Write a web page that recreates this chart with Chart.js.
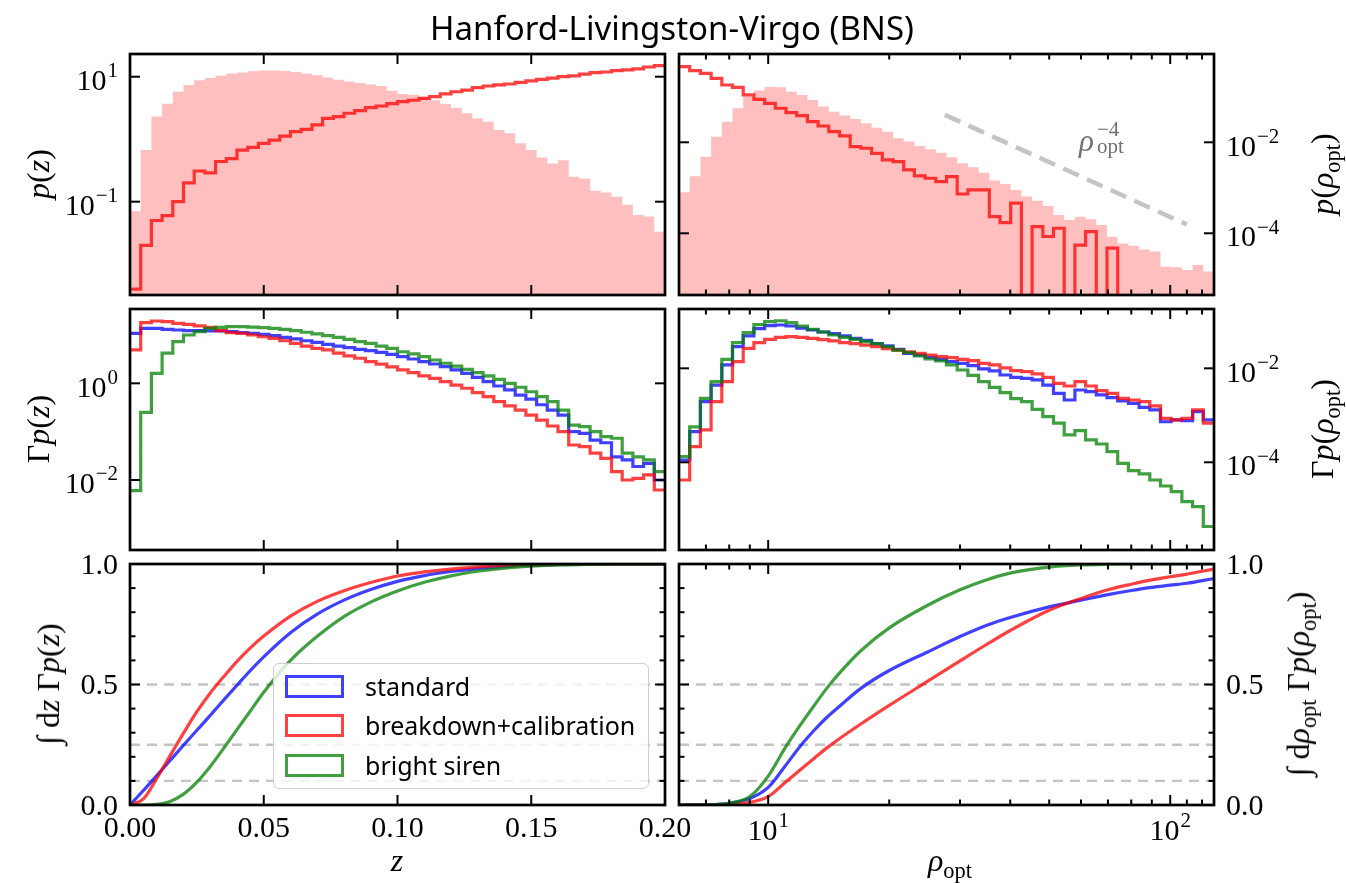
<!DOCTYPE html>
<html>
<head>
<meta charset="utf-8">
<script src="https://cdn.jsdelivr.net/npm/chart.js@4.4.0/dist/chart.umd.min.js"></script>
<style>
  body { margin: 0; background: #fff; }
  #fig { position: relative; width: 1346px; height: 883px; overflow: hidden; }
  canvas.panel { position: absolute; left: 0; top: 0; }
  .lbl { position: absolute; font-family: "Liberation Serif", serif; font-size: 32px; line-height: 1; white-space: nowrap; transform: translate(-50%, -50%); }
  .rot { transform: translate(-50%, -50%) rotate(-90deg); }
  .lbl i { font-style: italic; }
  .sb { font-size: 70%; position: relative; top: 0.3em; }
  #title { position: absolute; left: 672px; top: 27px; transform: translate(-50%, -50%); font-family: "Noto Sans", sans-serif; font-size: 33px; white-space: nowrap; }
  #legend { position: absolute; left: 273px; top: 663px; width: 374px; height: 124px; border: 1.5px solid #cfcfcf; border-radius: 6px; background: rgba(255,255,255,0.8); }
  .entry { position: absolute; left: 0; height: 30px; display: flex; align-items: center; font-family: "Noto Sans", sans-serif; font-size: 25px; white-space: nowrap; }
  .entry .box { width: 53px; height: 17px; margin-left: 11px; margin-right: 21px; border: 3px solid; }
  .slope { position: absolute; font-family: "Liberation Serif", serif; color: #707070; line-height: 1; white-space: nowrap; }
</style>
</head>
<body>
<div id="fig">
  <canvas id="pz" class="panel" width="1346" height="883"></canvas>
  <canvas id="prho" class="panel" width="1346" height="883"></canvas>
  <canvas id="gz" class="panel" width="1346" height="883"></canvas>
  <canvas id="grho" class="panel" width="1346" height="883"></canvas>
  <canvas id="cz" class="panel" width="1346" height="883"></canvas>
  <canvas id="crho" class="panel" width="1346" height="883"></canvas>

  <div id="title">Hanford-Livingston-Virgo (BNS)</div>

  <div class="lbl rot" style="left:38px;top:174px"><i>p</i>(<i>z</i>)</div>
  <div class="lbl rot" style="left:38px;top:429px">Γ<i>p</i>(<i>z</i>)</div>
  <div class="lbl rot" style="left:48px;top:684px">∫ d<i>z</i> Γ<i>p</i>(<i>z</i>)</div>
  <div class="lbl rot" style="left:1322px;top:174px"><i>p</i>(<i>ρ</i><span class="sb">opt</span>)</div>
  <div class="lbl rot" style="left:1322px;top:429px">Γ<i>p</i>(<i>ρ</i><span class="sb">opt</span>)</div>
  <div class="lbl rot" style="left:1298px;top:684px">∫ d<i>ρ</i><span class="sb">opt</span> Γ<i>p</i>(<i>ρ</i><span class="sb">opt</span>)</div>
  <div class="lbl" style="left:397px;top:860px"><i>z</i></div>
  <div class="lbl" style="left:950px;top:860px"><i>ρ</i><span class="sb">opt</span></div>

  <span class="slope" style="left:1079px;top:125px;font-size:31px"><i>ρ</i></span>
  <span class="slope" style="left:1097px;top:119px;font-size:21px">−4</span>
  <span class="slope" style="left:1097px;top:136px;font-size:21px">opt</span>

  <div id="legend">
    <div class="entry" style="top:7px"><span class="box" style="border-color:rgba(0,0,255,0.75)"></span>standard</div>
    <div class="entry" style="top:46px"><span class="box" style="border-color:rgba(255,0,0,0.75)"></span>breakdown+calibration</div>
    <div class="entry" style="top:86px"><span class="box" style="border-color:rgba(0,128,0,0.75)"></span>bright siren</div>
  </div>
</div>

<script>
// ---------- data ----------
const zRange = [0, 0.2];
const zBins = 50;
const rhoRange = [6, 128.5];
const rhoBins = 50;

// top row: population density (shaded) and selected / detected (red step)
const pzAll = [0.07, 0.67, 2.3, 3.7, 5.75, 7.4, 8.8, 9.5, 10.4, 11.3,
  11.7, 12.2, 12.6, 12.6, 12.3, 11.9, 11.3, 10.6, 9.75, 8.95,
  8.4, 7.9, 7.5, 7.1, 5.97, 5.3, 5.15, 4.8, 4.2, 3.65,
  3.2, 2.6, 2.15, 1.9, 1.4, 1.24, 0.86, 0.67, 0.51, 0.41,
  0.46, 0.25, 0.236, 0.15, 0.14, 0.12, 0.089, 0.061, 0.058, 0.033];
const pzSel = [0.004, 0.02, 0.05, 0.06, 0.1, 0.2, 0.31, 0.29, 0.44, 0.49,
  0.67, 0.74, 0.86, 0.97, 1.12, 1.32, 1.44, 1.69, 2.15, 2.3,
  2.6, 2.86, 3.2, 3.4, 3.7, 4.0, 4.2, 4.5, 4.8, 5.3,
  5.75, 6.1, 6.7, 7.1, 7.4, 7.65, 8.1, 8.6, 9.1, 9.5,
  10.0, 10.3, 11.0, 11.6, 11.9, 12.5, 12.9, 13.4, 14.3, 15.0];
const prhoAll = [8e-4, 1.8e-3, 4.8e-3, 0.0133, 0.0284, 0.056, 0.101, 0.137, 0.167, 0.162,
  0.13, 0.11, 0.085, 0.061, 0.047, 0.039, 0.0326, 0.0262, 0.021, 0.0171,
  0.0123, 0.0104, 8.3e-3, 7.0e-3, 5.9e-3, 4.7e-3, 3.46e-3, 2.82e-3, 2.15e-3, 1.44e-3,
  1.21e-3, 9.0e-4, 6.4e-4, 5.2e-4, 4.0e-4, 2.53e-4, 1.96e-4, 2.32e-4, 2.03e-4, 1.52e-4,
  8.4e-5, 6.0e-5, 5.3e-5, 4.4e-5, 4.0e-5, 1.85e-5, 1.79e-5, 1.56e-5, 2.0e-5, 1.44e-5];
const prhoSel = [0.46, 0.376, 0.328, 0.255, 0.182, 0.162, 0.110, 0.088, 0.072, 0.056,
  0.045, 0.0385, 0.0284, 0.0228, 0.0171, 0.0138, 8.0e-3, 7.4e-3, 5.7e-3, 4.1e-3,
  3.76e-3, 2.47e-3, 1.82e-3, 1.62e-3, 1.37e-3, 1.76e-3, 7.3e-4, 9.0e-4, 9.0e-4, 2.32e-4,
  1.71e-4, 4.6e-4, 0, 1.4e-4, 8.5e-5, 1.29e-4, 0, 5.5e-5, 1.09e-4, 0,
  4.7e-5, 0, 0, 0, 0, 0, 0, 0, 0, 0];
// power law guide rho^-4
const slopeRho = [27.5, 110];
const slopeP = [0.04, 1.56e-4];

// middle row: Gamma p for the three analyses
const gzStd = [10.8, 13.7, 13.7, 13.1, 12.7, 12.3, 12.3, 12.1, 12.1, 11.7,
  11.2, 10.8, 10.3, 9.7, 8.95, 8.3, 7.6, 7.05, 6.4, 5.9,
  5.5, 5.05, 4.74, 4.38, 3.98, 3.56, 3.19, 2.8, 2.51, 2.21,
  1.89, 1.61, 1.33, 1.08, 0.88, 0.73, 0.57, 0.47, 0.36, 0.28,
  0.22, 0.1, 0.092, 0.067, 0.059, 0.03, 0.026, 0.019, 0.022, 0.01];
const gzBrk = [4.9, 18, 19.5, 18.9, 17.4, 16.6, 15.4, 14.4, 12.3, 11.2,
  10.8, 10, 9.2, 8.5, 7.6, 6.7, 5.9, 5.3, 4.9, 4.2,
  3.7, 3.3, 2.8, 2.5, 2.2, 1.9, 1.66, 1.42, 1.27, 1.08,
  0.92, 0.79, 0.64, 0.53, 0.42, 0.34, 0.28, 0.22, 0.174, 0.131,
  0.1, 0.053, 0.049, 0.036, 0.028, 0.0149, 0.01, 0.0108, 0.0127, 0.0062];
const gzBright = [0.006, 0.25, 1.61, 4.2, 7.3, 10, 11.7, 13.7, 14.4, 14.9,
  14.9, 14.6, 14.2, 13.7, 13.1, 12.3, 11.4, 10.5, 9.7, 8.95,
  8.1, 7.3, 6.7, 5.9, 5.3, 4.5, 4.05, 3.56, 3.04, 2.6,
  2.28, 1.95, 1.66, 1.42, 1.21, 1.0, 0.83, 0.67, 0.53, 0.42,
  0.28, 0.137, 0.127, 0.1, 0.079, 0.073, 0.036, 0.03, 0.026, 0.0149];
const grhoStd = [1.12e-4, 4.5e-4, 1.95e-3, 4.4e-3, 0.0118, 0.0289, 0.0488, 0.070, 0.081, 0.0836,
  0.0796, 0.072, 0.0654, 0.0593, 0.0547, 0.0488, 0.0435, 0.0394, 0.0335, 0.0299,
  0.0254, 0.0208, 0.0192, 0.0171, 0.0155, 0.0139, 0.0128, 0.0114, 9.7e-3, 8.8e-3,
  7.2e-3, 6.4e-3, 6.1e-3, 5.65e-3, 4.4e-3, 2.94e-3, 2.12e-3, 3.46e-3, 3.19e-3, 2.71e-3,
  2.38e-3, 2.02e-3, 1.80e-3, 1.48e-3, 1.30e-3, 7.3e-4, 7.96e-4, 7.7e-4, 1.2e-3, 7.96e-4];
const grhoBrk = [4.2e-5, 2.15e-4, 4.9e-4, 1.95e-3, 5.2e-3, 0.0139, 0.0267, 0.0352, 0.0414, 0.0457,
  0.0472, 0.0457, 0.0435, 0.0407, 0.0382, 0.0352, 0.0335, 0.0313, 0.0289, 0.0262,
  0.0245, 0.0223, 0.0208, 0.0192, 0.0177, 0.0169, 0.0155, 0.0146, 0.0128, 0.0118,
  0.0102, 8.9e-3, 8.5e-3, 7.6e-3, 6.4e-3, 4.8e-3, 4.2e-3, 5.2e-3, 4.2e-3, 3.35e-3,
  2.94e-3, 2.3e-3, 2.12e-3, 1.95e-3, 1.58e-3, 8.6e-4, 8.0e-4, 8.6e-4, 1.3e-3, 6.8e-4];
const grhoBright = [1.32e-4, 5.7e-4, 2.3e-3, 5.2e-3, 0.0155, 0.0352, 0.0574, 0.085, 0.0984, 0.103,
  0.0937, 0.0796, 0.0676, 0.0593, 0.0512, 0.0457, 0.0414, 0.0369, 0.0335, 0.0289,
  0.0245, 0.0215, 0.0183, 0.0158, 0.0143, 0.0118, 9.2e-3, 7.1e-3, 5.2e-3, 3.94e-3,
  3.03e-3, 2.26e-3, 1.95e-3, 1.34e-3, 9.4e-4, 6.8e-4, 3.82e-4, 4.7e-4, 2.99e-4, 2.45e-4,
  1.69e-4, 9.5e-5, 6.65e-5, 5.65e-5, 4.2e-5, 3.13e-5, 2.38e-5, 1.46e-5, 1.14e-5, 4.3e-6];

// bottom row: cumulative fractions
const zCdf = [0, 0.005, 0.01, 0.015, 0.02, 0.025, 0.03, 0.035, 0.04, 0.045, 0.05, 0.06, 0.07,
  0.08, 0.09, 0.10, 0.11, 0.12, 0.13, 0.14, 0.15, 0.16, 0.17, 0.18, 0.20];
const czStd = [0, 0.06, 0.122, 0.185, 0.248, 0.31, 0.372, 0.435, 0.497, 0.558, 0.615, 0.715, 0.792,
  0.85, 0.894, 0.928, 0.952, 0.969, 0.981, 0.989, 0.994, 0.997, 0.999, 1.0, 1.0];
const czBrk = [0, 0.025, 0.11, 0.205, 0.298, 0.387, 0.465, 0.532, 0.596, 0.652, 0.701, 0.784, 0.845,
  0.889, 0.923, 0.95, 0.967, 0.979, 0.988, 0.993, 0.996, 0.998, 0.999, 1.0, 1.0];
const czBright = [0, 0, 0.003, 0.015, 0.045, 0.095, 0.16, 0.235, 0.313, 0.39, 0.468, 0.60, 0.70,
  0.782, 0.842, 0.888, 0.924, 0.951, 0.97, 0.983, 0.991, 0.996, 0.998, 0.999, 1.0];
const rhoCdf = [6, 7, 8, 9, 10, 11, 12, 13, 14, 15, 17, 20, 25, 30, 35, 40, 50, 60, 70, 80, 90, 100, 110, 128.5];
const crhoStd = [0, 0.001, 0.007, 0.027, 0.073, 0.16, 0.243, 0.309, 0.364, 0.408, 0.484, 0.558, 0.636,
  0.699, 0.746, 0.778, 0.822, 0.85, 0.873, 0.89, 0.903, 0.912, 0.92, 0.94];
const crhoBrk = [0, 0, 0.002, 0.011, 0.035, 0.092, 0.145, 0.193, 0.237, 0.274, 0.336, 0.413, 0.515,
  0.598, 0.667, 0.724, 0.808, 0.857, 0.893, 0.916, 0.934, 0.947, 0.958, 0.979];
const crhoBright = [0, 0.001, 0.007, 0.035, 0.12, 0.235, 0.33, 0.412, 0.485, 0.545, 0.64, 0.735, 0.83,
  0.893, 0.935, 0.962, 0.987, 0.996, 0.999, 1, 1, 1, 1, 1];
const levels = [0.1, 0.25, 0.5];

// ticks
const zTicks = [0, 0.05, 0.1, 0.15, 0.2];
const zTickText = ['0.00', '0.05', '0.10', '0.15', '0.20'];
const rhoTicks = [10, 100];
const rhoTickText = [['10', '1'], ['10', '2']];
const rhoMinor = [6, 7, 8, 9, 20, 30, 40, 50, 60, 70, 80, 90, 110, 120];
const fracTicks = [0, 0.5, 1];
const fracTickText = ['0.0', '0.5', '1.0'];
const fracMinor = [0.1, 0.2, 0.3, 0.4, 0.6, 0.7, 0.8, 0.9];

// ---------- style / layout ----------
const W = 1346, H = 883;
const colX = [130, 679], colW = 535;
const rowY = [54, 309, 564], rowH = 241;
const cStd = 'rgba(0,0,255,0.75)';
const cBrk = 'rgba(255,0,0,0.75)';
const cBright = 'rgba(0,128,0,0.75)';
const cShade = 'rgba(255,0,0,0.25)';
const MAJ = 10, MIN = 5.5;
const LW = 3.2;

function linEdges(lo, hi, n) {
  const e = [];
  for (let i = 0; i <= n; i++) e.push(lo + (hi - lo) * i / n);
  return e;
}
function logEdges(lo, hi, n) {
  const a = Math.log10(lo), b = Math.log10(hi), e = [];
  for (let i = 0; i <= n; i++) e.push(Math.pow(10, a + (b - a) * i / n));
  return e;
}
const zEdges = linEdges(zRange[0], zRange[1], zBins);
const rhoEdges = logEdges(rhoRange[0], rhoRange[1], rhoBins);

// step histogram points; empty bins drop below the log axis
function stepPts(edges, vals) {
  const pts = vals.map((v, i) => ({x: edges[i], y: v > 0 ? v : 1e-12}));
  pts.push({x: edges[edges.length - 1], y: pts[pts.length - 1].y});
  return pts;
}
function xyPts(xs, ys) {
  return xs.map((x, i) => ({x: x, y: ys[i]}));
}
function histLine(edges, vals, color) {
  return {data: stepPts(edges, vals), borderColor: color, borderWidth: LW, stepped: true, fill: false, pointRadius: 0};
}
function histFill(edges, vals) {
  return {data: stepPts(edges, vals), borderColor: 'rgba(0,0,0,0)', borderWidth: 0.01, backgroundColor: cShade,
    stepped: true, fill: 'start', pointRadius: 0};
}
function cdfLine(xs, ys, color) {
  return {data: xyPts(xs, ys), borderColor: color, borderWidth: LW, cubicInterpolationMode: 'monotone', pointRadius: 0, fill: false};
}
function levelLines(x0, x1) {
  return levels.map(l => ({data: [{x: x0, y: l}, {x: x1, y: l}], borderColor: '#c4c4c4', borderWidth: 2.4,
    borderDash: [10, 7], pointRadius: 0, fill: false}));
}

// tick label with optional superscript exponent
function drawTickText(ctx, t, x, y, align) {
  const fs = 30;
  const base = Array.isArray(t) ? t[0] : t;
  const exp = Array.isArray(t) ? t[1] : '';
  ctx.font = fs + 'px "Liberation Serif", serif';
  const wb = ctx.measureText(base).width;
  ctx.font = Math.round(fs * 0.7) + 'px "Liberation Serif", serif';
  const we = exp ? ctx.measureText(exp).width + 1 : 0;
  const w = wb + we;
  const x0 = align === 'right' ? x - w : (align === 'center' ? x - w / 2 : x);
  const bl = exp ? y + 0.44 * fs : y + 0.33 * fs;
  ctx.textAlign = 'left';
  ctx.textBaseline = 'alphabetic';
  ctx.font = fs + 'px "Liberation Serif", serif';
  ctx.fillText(base, x0, bl);
  if (exp) {
    ctx.font = Math.round(fs * 0.7) + 'px "Liberation Serif", serif';
    ctx.fillText(exp, x0 + wb + 1, bl - 0.43 * fs);
  }
}

const specs = {};

// frame, inward ticks on all four sides, tick labels
const frameTicks = {
  id: 'frameTicks',
  afterDraw(chart) {
    const p = specs[chart.canvas.id];
    const ctx = chart.ctx;
    const {left, right, top, bottom} = chart.chartArea;
    const xs = chart.scales.x, ys = chart.scales.y;
    ctx.save();
    ctx.strokeStyle = '#000';
    ctx.fillStyle = '#000';
    ctx.lineWidth = 2;
    const seg = (x1, y1, x2, y2) => { ctx.beginPath(); ctx.moveTo(x1, y1); ctx.lineTo(x2, y2); ctx.stroke(); };
    const xt = (vals, len) => vals.forEach(v => {
      const px = xs.getPixelForValue(v);
      seg(px, bottom, px, bottom - len); seg(px, top, px, top + len);
    });
    const yt = (vals, len) => vals.forEach(v => {
      const py = ys.getPixelForValue(v);
      seg(left, py, left + len, py); seg(right, py, right - len, py);
    });
    xt(p.xMajor, MAJ); xt(p.xMinor || [], MIN);
    yt(p.yMajor, MAJ); yt(p.yMinor || [], MIN);
    ctx.lineWidth = 2.7;
    ctx.strokeRect(left, top, right - left, bottom - top);
    if (p.xText) p.xMajor.forEach((v, i) => drawTickText(ctx, p.xText[i], xs.getPixelForValue(v), bottom + 22, 'center'));
    p.yText.forEach((t, i) => {
      const py = ys.getPixelForValue(p.yMajor[i]);
      if (p.ySide === 'left') drawTickText(ctx, t, left - 12, py, 'right');
      else drawTickText(ctx, t, right + 12, py, 'left');
    });
    ctx.restore();
  }
};

function makePanel(p) {
  specs[p.id] = p;
  const x0 = colX[p.col], y0 = rowY[p.row];
  return new Chart(document.getElementById(p.id), {
    type: 'line',
    data: {datasets: p.datasets},
    options: {
      responsive: false,
      animation: false,
      devicePixelRatio: 1,
      events: [],
      layout: {padding: {left: x0, top: y0, right: W - x0 - colW, bottom: H - y0 - rowH}},
      plugins: {legend: {display: false}, tooltip: {enabled: false}},
      scales: {
        x: {type: p.xType, min: p.xMin, max: p.xMax, display: false},
        y: {type: p.yType, min: p.yMin, max: p.yMax, display: false}
      }
    },
    plugins: [frameTicks]
  });
}

// top left: p(z)
makePanel({id: 'pz', col: 0, row: 0, xType: 'linear', xMin: zRange[0], xMax: zRange[1],
  yType: 'logarithmic', yMin: 0.00321, yMax: 23.1,
  xMajor: zTicks, yMajor: [10, 0.1], yText: [['10', '1'], ['10', '−1']], ySide: 'left',
  datasets: [histLine(zEdges, pzSel, cBrk), histFill(zEdges, pzAll)]});

// top right: p(rho)
makePanel({id: 'prho', col: 1, row: 0, xType: 'logarithmic', xMin: rhoRange[0], xMax: rhoRange[1],
  yType: 'logarithmic', yMin: 4.4e-6, yMax: 0.873,
  xMajor: rhoTicks, xMinor: rhoMinor, yMajor: [1e-2, 1e-4], yText: [['10', '−2'], ['10', '−4']], ySide: 'right',
  datasets: [
    histLine(rhoEdges, prhoSel, cBrk),
    {data: xyPts(slopeRho, slopeP), borderColor: '#c4c4c4', borderWidth: 4.5, borderDash: [17, 9], pointRadius: 0, fill: false},
    histFill(rhoEdges, prhoAll)]});

// middle left: Gamma p(z)
makePanel({id: 'gz', col: 0, row: 1, xType: 'linear', xMin: zRange[0], xMax: zRange[1],
  yType: 'logarithmic', yMin: 3.56e-4, yMax: 34.5,
  xMajor: zTicks, yMajor: [1, 0.01], yText: [['10', '0'], ['10', '−2']], ySide: 'left',
  datasets: [histLine(zEdges, gzBright, cBright), histLine(zEdges, gzBrk, cBrk), histLine(zEdges, gzStd, cStd)]});

// middle right: Gamma p(rho)
makePanel({id: 'grho', col: 1, row: 1, xType: 'logarithmic', xMin: rhoRange[0], xMax: rhoRange[1],
  yType: 'logarithmic', yMin: 1.36e-6, yMax: 0.183,
  xMajor: rhoTicks, xMinor: rhoMinor, yMajor: [1e-2, 1e-4], yText: [['10', '−2'], ['10', '−4']], ySide: 'right',
  datasets: [histLine(rhoEdges, grhoBright, cBright), histLine(rhoEdges, grhoBrk, cBrk), histLine(rhoEdges, grhoStd, cStd)]});

// bottom left: cumulative in z
makePanel({id: 'cz', col: 0, row: 2, xType: 'linear', xMin: zRange[0], xMax: zRange[1],
  yType: 'linear', yMin: 0, yMax: 1,
  xMajor: zTicks, xText: zTickText, yMajor: fracTicks, yMinor: fracMinor, yText: fracTickText, ySide: 'left',
  datasets: [cdfLine(zCdf, czBright, cBright), cdfLine(zCdf, czBrk, cBrk), cdfLine(zCdf, czStd, cStd)]
    .concat(levelLines(zRange[0], zRange[1]))});

// bottom right: cumulative in rho
makePanel({id: 'crho', col: 1, row: 2, xType: 'logarithmic', xMin: rhoRange[0], xMax: rhoRange[1],
  yType: 'linear', yMin: 0, yMax: 1,
  xMajor: rhoTicks, xMinor: rhoMinor, xText: rhoTickText, yMajor: fracTicks, yMinor: fracMinor, yText: fracTickText, ySide: 'right',
  datasets: [cdfLine(rhoCdf, crhoBright, cBright), cdfLine(rhoCdf, crhoBrk, cBrk), cdfLine(rhoCdf, crhoStd, cStd)]
    .concat(levelLines(rhoRange[0], rhoRange[1]))});
</script>
</body>
</html>
